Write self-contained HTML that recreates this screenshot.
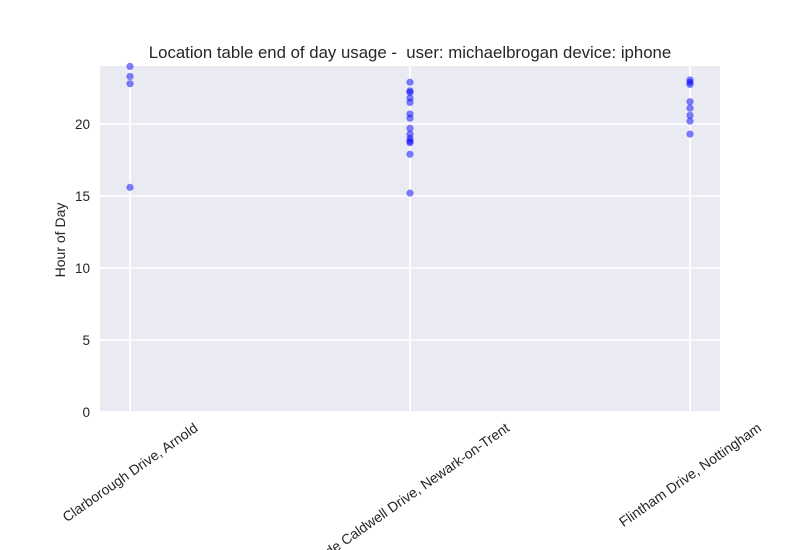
<!DOCTYPE html>
<html><head><meta charset="utf-8"><style>
body{margin:0;background:#fff;}
svg{display:block;font-family:"Liberation Sans",sans-serif;}
</style></head><body>
<svg id="chart" width="800" height="550">
<rect x="100" y="66" width="620" height="346" fill="#eaeaf2"/>
<g id="grid"></g><g id="pts"></g><g id="labels"></g>
<text x="410" y="58" text-anchor="middle" font-size="16.8" fill="#262626" style="white-space:pre">Location table end of day usage -  user: michaelbrogan device: iphone</text>
<text transform="translate(65,240) rotate(-90)" text-anchor="middle" font-size="14" fill="#262626">Hour of Day</text>
</svg>
<script>
const categories=["Clarborough Drive, Arnold","Hyde Caldwell Drive, Newark-on-Trent","Flintham Drive, Nottingham"];
const values0=[24.0,23.3,22.8,15.6];
const values1=[22.9,22.3,22.2,21.8,21.5,20.7,20.4,19.7,19.3,19.0,18.8,18.7,17.9,15.2];
const values2=[23.06,22.9,22.75,21.55,21.1,20.6,20.2,19.3];
const yTicks=[0,5,10,15,20];
const series=[values0,values1,values2];
const NS="http://www.w3.org/2000/svg";
const y=v=>412-v*14.4;
const x=i=>130+i*280;
const grid=document.getElementById('grid'),pts=document.getElementById('pts'),lab=document.getElementById('labels');
function mk(t,a,p){const e=document.createElementNS(NS,t);for(const k in a)e.setAttribute(k,a[k]);p.appendChild(e);return e;}
yTicks.forEach(t=>{
 const l=mk('line',{x1:100,x2:720,y1:y(t),y2:y(t),stroke:'#fff','stroke-width':1.8},grid);
 
 
 const tx=mk('text',{x:90,y:y(t)+5,'text-anchor':'end','font-size':13.5,fill:'#262626'},lab);
 tx.textContent=t;
 
 
});
const s=Math.sin(35*Math.PI/180);
categories.forEach((c,i)=>{
 const l=mk('line',{x1:x(i),x2:x(i),y1:66,y2:412,stroke:'#fff','stroke-width':1.8},grid);
 
 
 const tx=mk('text',{'text-anchor':'middle','font-size':14,fill:'#262626'},lab);
 tx.textContent=c;
 
 
 const w=tx.getComputedTextLength();
 const cy=420+w*s/2+6;
 tx.setAttribute('transform',`translate(${x(i)},${cy}) rotate(-35)`);
 tx.setAttribute('dy','5');
 series[i].forEach(v=>{
  const p=mk('circle',{cx:x(i),cy:y(v),r:3.6,fill:'#0000ff','fill-opacity':0.5},pts);
  
  
 });
});
</script>
</body></html>
